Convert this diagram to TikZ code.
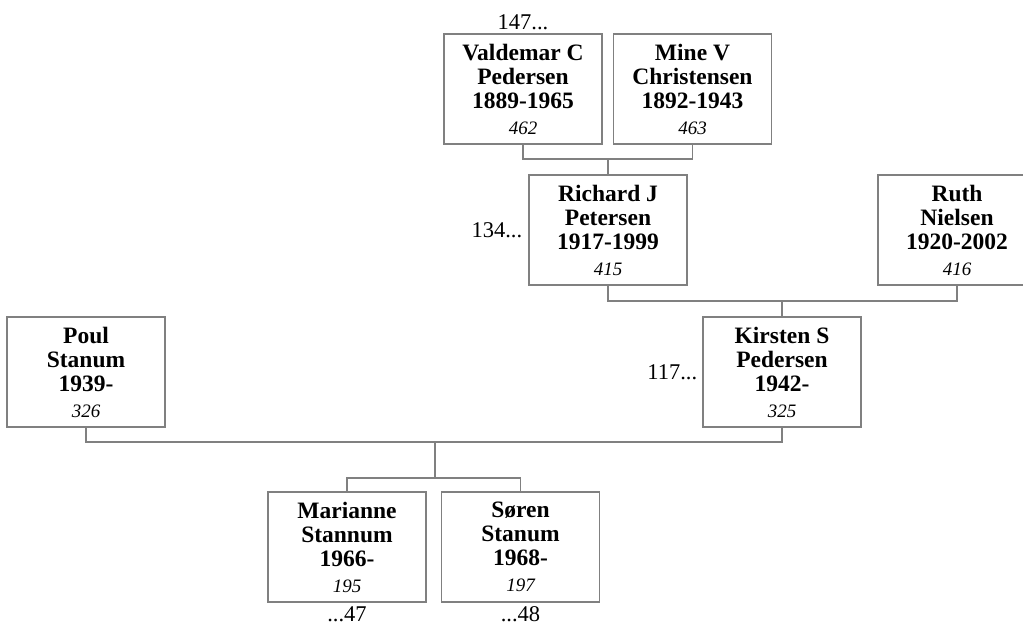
\documentclass[tikz,border=0pt]{standalone}
\usepackage{fontspec}
\setmainfont{Liberation Serif}
\usetikzlibrary{positioning}
\definecolor{boxgray}{RGB}{128,128,128}
\tikzset{
  person/.style={draw=boxgray,line width=1.3pt,minimum width=158pt,minimum height=110pt,
    inner sep=0pt,align=center,font=\fontsize{23.5}{24}\selectfont\bfseries},
  link/.style={draw=boxgray,line width=1.3pt},
  ref/.style={inner sep=0pt,font=\fontsize{22.5}{22.5}\selectfont}
}
\newcommand{\rnum}[1]{\\[2pt]{\normalfont\itshape\fontsize{19}{19}\selectfont #1}}

\begin{document}
\begin{tikzpicture}[x=1pt,y=-1pt]
    \useasboundingbox (0,0) rectangle (1023,628);
    % grandparents
    \node[person] (valdemar) at (523,89)   {Valdemar C\\Pedersen\\1889-1965\rnum{462}};
    \node[person] (mine)     at (692.5,89) {Mine V\\Christensen\\1892-1943\rnum{463}};
    % parents
    \node[person] (richard)  at (608,230)  {Richard J\\Petersen\\1917-1999\rnum{415}};
    \node[person] (ruth)     at (957,230)  {Ruth\\Nielsen\\1920-2002\rnum{416}};
    \node[person] (poul)     at (86,372)   {Poul\\Stanum\\1939-\rnum{326}};
    \node[person] (kirsten)  at (782,372)  {Kirsten S\\Pedersen\\1942-\rnum{325}};
    % children
    \node[person] (marianne) at (347,547)   {Marianne\\Stannum\\1966-\rnum{195}};
    \node[person] (soren)    at (520.5,547) {Søren\\Stanum\\1968-\rnum{197}};
    % references
    \node[ref,above=3pt of valdemar] (r147) {147...};
    \node[ref,left=6pt of richard]   (r134) {134...};
    \node[ref,left=5pt of kirsten]   (r117) {117...};
    \node[ref,below=4pt of marianne] (r47)  {...47};
    \node[ref,below=4pt of soren]    (r48)  {...48};
    % joins
    \coordinate (j1) at (608,159);
    \coordinate (j2) at (782,301);
    \coordinate (j3) at (435,442);
    \coordinate (j4) at (435,478);
    \draw[link] (valdemar.south) |- (j1) -| (mine.south);
    \draw[link] (j1) -- (richard.north);
    \draw[link] (richard.south) |- (j2) -| (ruth.south);
    \draw[link] (j2) -- (kirsten.north);
    \draw[link] (poul.south) |- (j3) -| (kirsten.south);
    \draw[link] (j3) -- (j4);
    \draw[link] (marianne.north) |- (j4) -| (soren.north);
\end{tikzpicture}
\end{document}
